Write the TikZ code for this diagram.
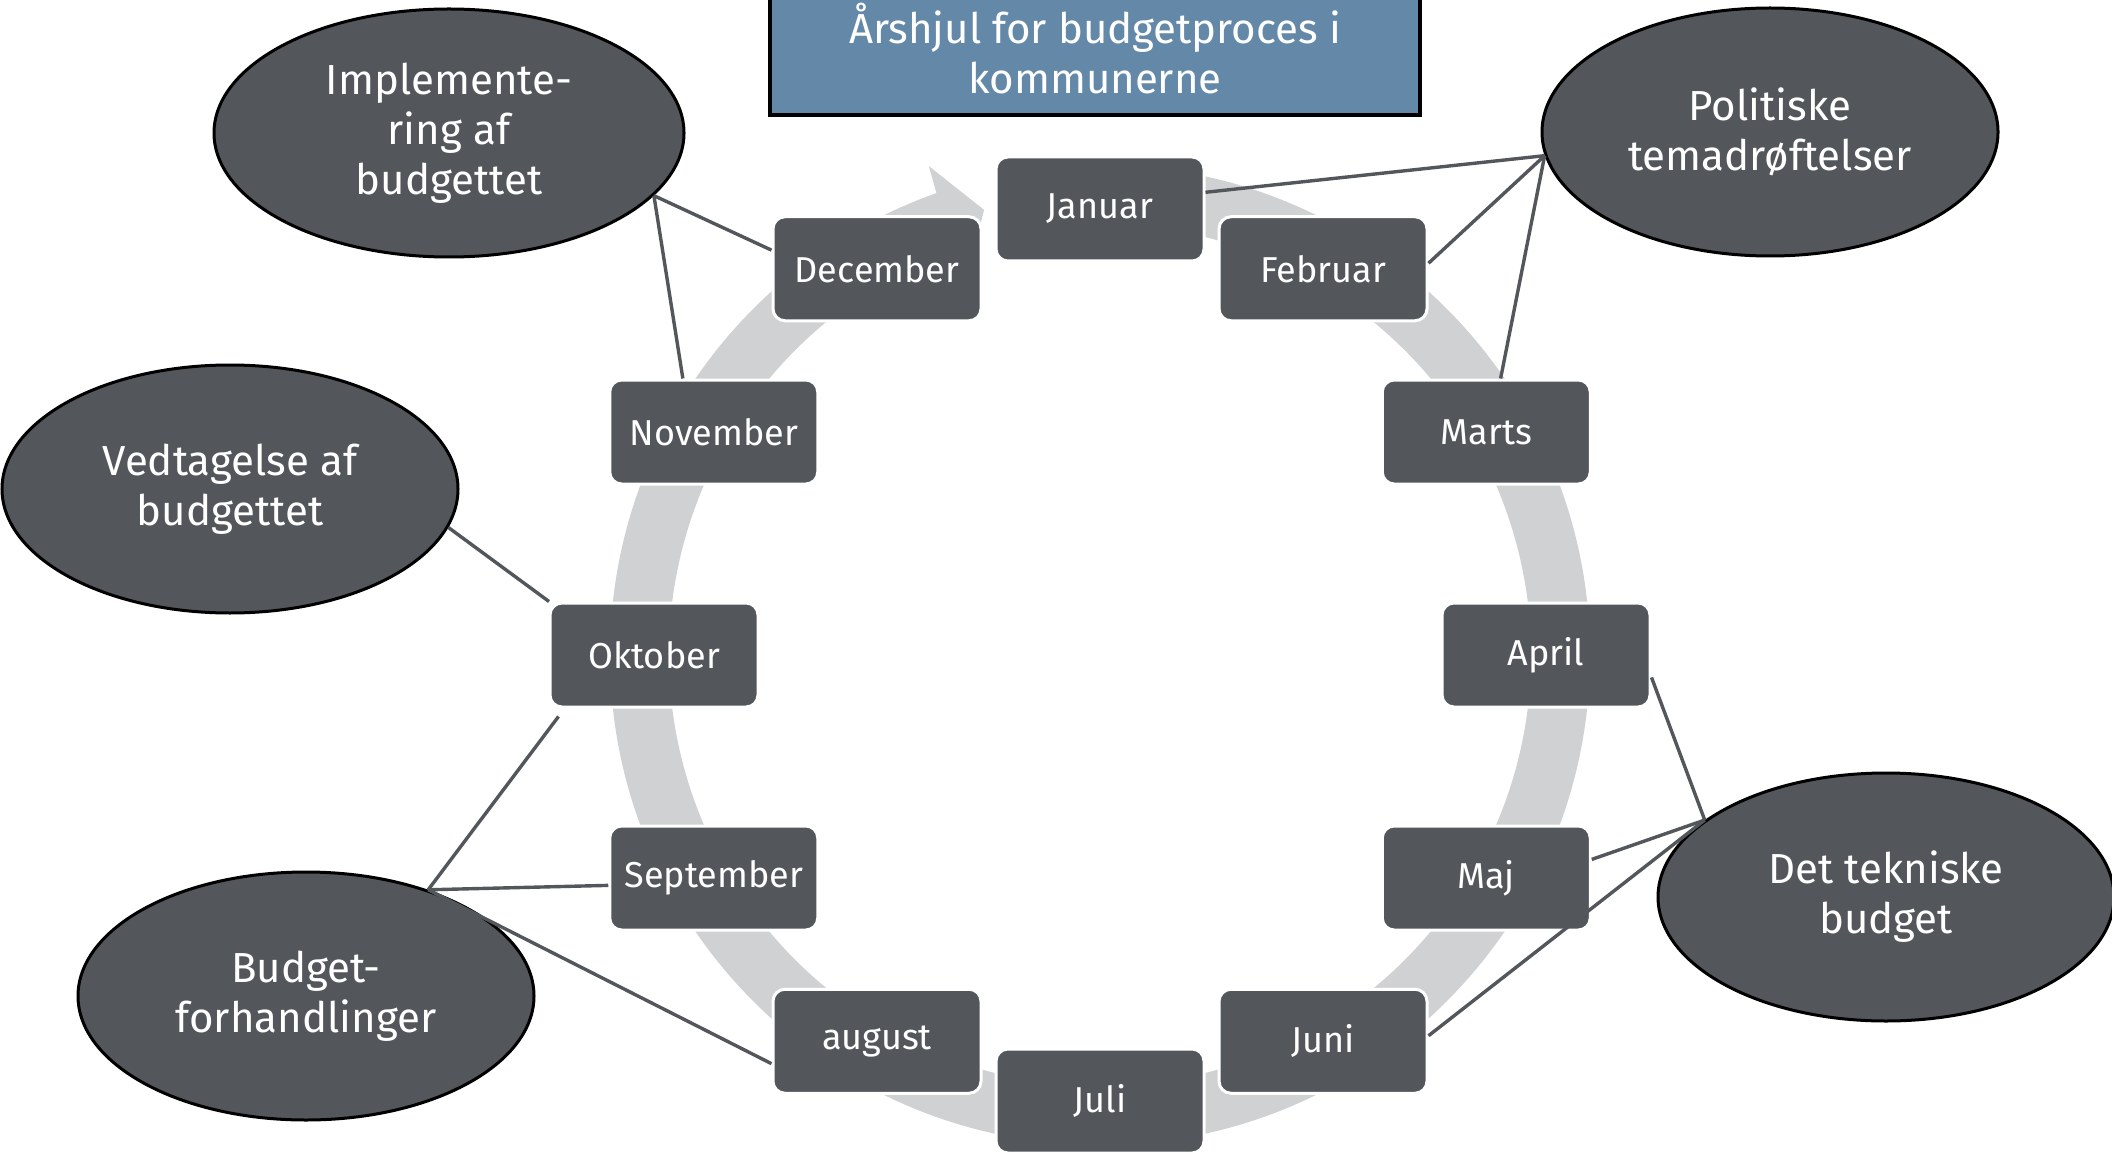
\documentclass[tikz,border=0pt]{standalone}
\usepackage{fontspec}
\setmainfont{Fira Sans}
\usetikzlibrary{shapes.geometric,calc}
\definecolor{boxgray}{HTML}{53575B}
\definecolor{bandgray}{HTML}{D0D1D3}
\definecolor{titleblue}{HTML}{6489A8}
\begin{document}
\begin{tikzpicture}[x=0.5pt,y=0.5pt,
 month/.style={draw=white, line width=1.5pt, fill=boxgray, rounded corners=6pt,
   minimum width=104pt, minimum height=52pt, text=white,
   font=\fontsize{18}{22}\selectfont, inner sep=0pt},
 phase/.style={ellipse, draw=black, line width=1.5pt, fill=boxgray,
   minimum width=228pt, minimum height=124pt, text=white, align=center,
   font=\fontsize{21}{25}\selectfont, inner sep=0pt},
 link/.style={draw=boxgray, line width=1.7pt}]
\clip (0,0) rectangle (2112,-1160);
\fill[white] (0,0) rectangle (2112,-1160);

% circular arrow band
\begin{scope}[shift={(1100,-655)}]
\fill[bandgray] (90:245pt) arc[start angle=90,end angle=-250.5,radius=245pt]
  -- (-250.7:259pt) -- (-255.4:230pt) -- (-250.7:201pt) -- (-250.5:215.5pt)
  arc[start angle=-250.5,end angle=90,radius=215.5pt] -- cycle;
% months
\node[month] (jan) at (90:223pt) {Januar};
\node[month] (feb) at (60:223pt) {Februar};
\node[month] (mar) at (30:223pt) {Marts};
\node[month] (apr) at (0:223pt) {April};
\node[month] (maj) at (-30:223pt) {Maj};
\node[month] (jun) at (-60:223pt) {Juni};
\node[month] (jul) at (-90:223pt) {Juli};
\node[month] (aug) at (-120:223pt) {august};
\node[month] (sep) at (-150:223pt) {September};
\node[month] (okt) at (180:223pt) {Oktober};
\node[month] (nov) at (150:223pt) {November};
\node[month] (dec) at (120:223pt) {December};
\end{scope}

% title
\node[draw=black, line width=2pt, fill=titleblue, minimum width=325pt,
  minimum height=66.5pt, text=white, align=center,
  font=\fontsize{21}{25}\selectfont] (title) at (1095,-48.5)
  {Årshjul for budgetproces i\\kommunerne};

% phases
\node[phase, minimum width=235pt] (impl) at (449,-133) {Implemente-\\ring af\\budgettet};
\node[phase] (pol) at (1770,-132) {Politiske\\temadrøftelser};
\node[phase] (ved) at (230,-489) {Vedtagelse af\\budgettet};
\node[phase] (bud) at (306,-996) {Budget-\\forhandlinger};
\node[phase] (tek) at (1886,-897) {Det tekniske\\budget};

% links
\coordinate (oktlow) at ($(okt.south west)+(10,-8)$);
\draw[link] (pol.186) -- (jan.9);
\draw[link] (pol.186) -- (feb.3);
\draw[link] (pol.186) -- (mar.75);
\draw[link] (impl.-17.5) -- (dec.170);
\draw[link] (impl.-17.5) -- (nov.120);
\draw[link] (ved.-10) -- (okt.153);
\draw[link] (bud.41) -- (oktlow);
\draw[link] (bud.41) -- (sep.184);
\draw[link] (bud.41) -- (aug.192);
\draw[link] (tek.157) -- (apr.-12);
\draw[link] (tek.157) -- (maj.10);
\draw[link] (tek.157) -- (jun.3);
\end{tikzpicture}
\end{document}
